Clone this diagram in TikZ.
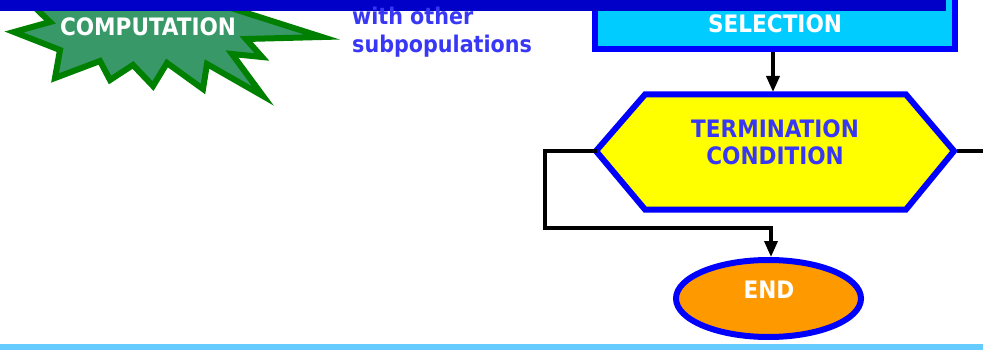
\documentclass[tikz,border=0pt]{standalone}
\usepackage{fontspec}
\usetikzlibrary{arrows.meta,shapes.geometric}
\newfontfamily\cf{DejaVu Sans Condensed Bold}
\definecolor{topbar}{RGB}{0,0,200}
\definecolor{selfill}{RGB}{0,204,255}
\definecolor{bstroke}{RGB}{0,0,255}
\definecolor{hexfill}{RGB}{255,255,0}
\definecolor{endfill}{RGB}{255,153,0}
\definecolor{txtblue}{RGB}{55,55,245}
\definecolor{starfill}{RGB}{56,152,104}
\definecolor{starline}{RGB}{0,128,0}
\definecolor{botbar}{RGB}{102,204,255}
\tikzset{
  conn/.style={line width=3.5pt,black},
  arr/.style={-{Triangle[length=16pt,width=13pt]}},
  wtxt/.style={text=white,font=\cf\fontsize{24}{27}\selectfont,inner sep=0pt,align=center},
  btxt/.style={text=txtblue,font=\cf\fontsize{24}{27}\selectfont,inner sep=0pt,align=center},
}
\begin{document}
\begin{tikzpicture}[x=1pt,y=-1pt]
\useasboundingbox (0,0) rectangle (983,350);
\clip (0,0) rectangle (983,350);
% star burst
\draw[line width=6pt,fill=starfill,draw=starline,line join=miter,miter limit=10]
  (22,-5) -- (50,22) -- (14,32) -- (60,50) -- (55,78) -- (100,61) -- (110,80)
  -- (133,65) -- (153,86) -- (167,63) -- (203,89) -- (207,64) -- (263,96)
  -- (232,54) -- (262,57) -- (246,39) -- (322,37) -- (190,-5) -- cycle;
\node[wtxt] (comp) at (148,27) {COMPUTATION};
% selection box
\node[draw=bstroke,fill=selfill,line width=6pt,outer sep=0pt,inner sep=0pt,
      minimum width=360pt,minimum height=90pt,anchor=south] (sel) at (775,49.5) {};
% top bar
\fill[topbar] (0,0) rectangle (946,11);
\node[wtxt] (seltxt) at (775,24) {SELECTION};
% side text
\node[btxt,align=left,anchor=base west,font=\cf\fontsize{23}{28}\selectfont] (sub) at (352,53) {with other\\subpopulations};
% hexagon
\coordinate (hL) at (596,151);
\coordinate (hR) at (954,151);
\draw[draw=bstroke,fill=hexfill,line width=6pt,line join=miter]
  (hL) -- (645,94.5) -- (906,94.5) -- (hR) -- (906,209.5) -- (645,209.5) -- cycle;
\node[btxt] (term) at (775,142) {TERMINATION\\CONDITION};
% end ellipse
\node[ellipse,draw=bstroke,fill=endfill,line width=6pt,inner sep=0pt,
      minimum width=185pt,minimum height=77pt] (end) at (768.5,298.5) {};
\node[wtxt] (endtxt) at (769,290) {END};
% connectors
\coordinate (selB) at (773,52.5);
\coordinate (hexT) at (773,92);
\coordinate (loopL) at (597,151);
\coordinate (bend) at (545,228);
\coordinate (endN) at (771,257);
\coordinate (hexRout) at (957,151);
\coordinate (exitR) at (983,151);
\draw[conn,arr] (selB) -- (hexT);
\draw[conn,arr] (loopL) -| (bend) -| (endN);
\draw[conn] (hexRout) -- (exitR);
% bottom bar
\fill[botbar] (0,344) rectangle (983,350);
\end{tikzpicture}
\end{document}
